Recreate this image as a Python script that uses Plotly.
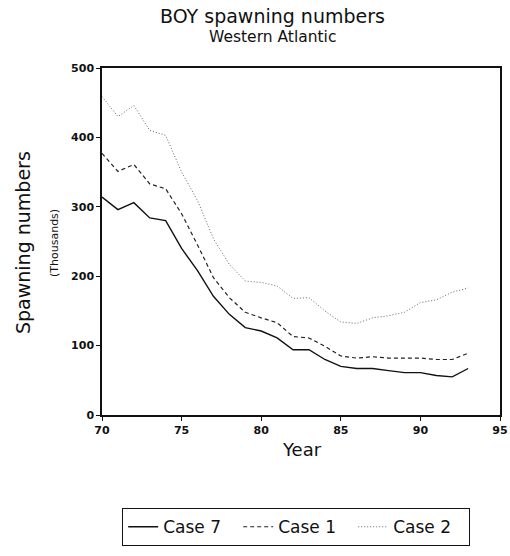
import plotly.graph_objects as go

years = list(range(70, 94))
case7 = [314, 296, 306, 284, 280, 240, 208, 171, 145, 126, 121, 111, 94, 94, 80, 70, 67, 67, 64, 61, 61, 57, 55, 67]
case1 = [377, 351, 361, 333, 326, 290, 245, 198, 169, 148, 140, 133, 113, 111, 99, 85, 82, 84, 82, 82, 82, 80, 80, 89]
case2 = [459, 430, 446, 410, 403, 350, 309, 254, 217, 193, 191, 186, 168, 169, 150, 134, 132, 140, 143, 148, 162, 166, 177, 183]
x_ticks = [70, 75, 80, 85, 90, 95]
y_ticks = [0, 100, 200, 300, 400, 500]

FONT = "DejaVu Sans, Liberation Sans, Arial, sans-serif"

W, H = 510, 556
L, R, T, B = 102, 10, 68, 141
PW = W - L - R
PH = H - T - B


def px(xp):
    return (xp - L) / PW


def py(yp):
    return (H - B - yp) / PH


fig = go.Figure()
fig.add_trace(go.Scatter(x=years, y=case7, mode="lines", name="Case 7",
                         line=dict(color="#111111", width=1.4, dash="solid")))
fig.add_trace(go.Scatter(x=years, y=case1, mode="lines", name="Case 1",
                         line=dict(color="#222222", width=1.2, dash="4px,3px")))
fig.add_trace(go.Scatter(x=years, y=case2, mode="lines", name="Case 2",
                         line=dict(color="#666666", width=1.0, dash="1px,2px")))

fig.update_layout(
    width=W, height=H,
    margin=dict(l=L, r=R, t=T, b=B, autoexpand=False),
    paper_bgcolor="white", plot_bgcolor="white",
    font=dict(family=FONT, color="#111111"),
    showlegend=True,
    legend=dict(orientation="h", x=px(296), xanchor="center", y=py(508), yanchor="top",
                bordercolor="#111111", borderwidth=1.2, bgcolor="white",
                font=dict(size=17, family=FONT), entrywidth=70,
                tracegroupgap=0),
    xaxis=dict(range=[70, 95], tickvals=x_ticks, ticktext=[str(v) for v in x_ticks],
               showgrid=False, zeroline=False, showline=True, mirror=True,
               linecolor="#111111", linewidth=1.5, ticks="outside", ticklen=4,
               tickcolor="#111111", tickfont=dict(size=11, family=FONT, weight="bold")),
    yaxis=dict(range=[0, 500], tickvals=y_ticks, ticktext=[str(v) for v in y_ticks],
               showgrid=False, zeroline=False, showline=True, mirror=True,
               linecolor="#111111", linewidth=1.5, ticks="outside", ticklen=4,
               tickcolor="#111111", tickfont=dict(size=11, family=FONT, weight="bold")),
    annotations=[
        dict(text="BOY spawning numbers", xref="paper", yref="paper",
             x=px(272), y=py(16), xanchor="center", yanchor="middle", showarrow=False,
             font=dict(size=19, family=FONT)),
        dict(text="Western Atlantic", xref="paper", yref="paper",
             x=px(272), y=py(37), xanchor="center", yanchor="middle", showarrow=False,
             font=dict(size=15.5, family=FONT)),
        dict(text="Year", xref="paper", yref="paper",
             x=px(302), y=py(449), xanchor="center", yanchor="middle", showarrow=False,
             font=dict(size=18, family=FONT)),
        dict(text="Spawning numbers", xref="paper", yref="paper",
             x=px(23), y=py(243), xanchor="center", yanchor="middle", showarrow=False,
             textangle=-90, font=dict(size=19, family=FONT)),
        dict(text="(Thousands)", xref="paper", yref="paper",
             x=px(54), y=py(243), xanchor="center", yanchor="middle", showarrow=False,
             textangle=-90, font=dict(size=11, family=FONT)),
    ],
)

fig.write_html("out.html", config={"displayModeBar": False},
               post_script="document.body.style.margin='0';")
